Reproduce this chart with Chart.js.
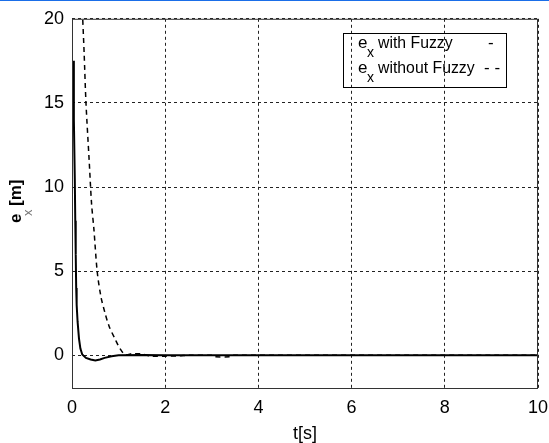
<!DOCTYPE html>
<html>
<head>
<meta charset="utf-8">
<script src="https://cdn.jsdelivr.net/npm/chart.js@4"></script>
<style>
  body { margin: 0; background: #fff; }
  #topline { position: absolute; left: 0; top: 0; width: 549px; height: 1px; background: #1a6ee8; }
</style>
</head>
<body>
<div id="topline"></div>
<canvas id="chart" width="549" height="443"></canvas>
<script>
// e_x with Fuzzy (solid)
const tWithFuzzy = [0.03, 0.04, 0.06, 0.07, 0.08, 0.09, 0.10, 0.12, 0.15, 0.18, 0.22, 0.30, 0.40, 0.50, 0.60, 0.70, 0.85, 1.00, 1.50, 2.00, 10];
const eWithFuzzy = [17.5, 14.0, 10.5, 8.0, 6.0, 4.0, 3.0, 2.0, 1.0, 0.4, 0.05, -0.15, -0.25, -0.3, -0.25, -0.15, -0.05, 0, 0.02, 0, 0];

// e_x without Fuzzy (dashed)
const tWithoutFuzzy = [0.215, 0.23, 0.26, 0.30, 0.37, 0.42, 0.47, 0.54, 0.62, 0.71, 0.80, 0.92, 1.03, 1.14, 1.30, 1.50, 1.70, 2.00, 2.30, 2.50, 3.00, 3.05, 3.40, 3.45, 10];
const eWithoutFuzzy = [21, 20, 18, 15, 11.5, 9, 7.5, 5, 3.5, 2.5, 1.7, 1.0, 0.4, 0.05, 0.1, 0.08, -0.05, -0.05, -0.03, 0, 0, -0.08, -0.08, 0, 0];

const xTicks = [0, 2, 4, 6, 8, 10];
const yTicks = [0, 5, 10, 15, 20];

const legendLabels = ['with Fuzzy', 'without Fuzzy'];
const legendMarks = ['-', '- -'];

function toPoints(xs, ys) {
  return xs.map((x, i) => ({ x: x, y: ys[i] }));
}

const framePlugin = {
  id: 'frame',
  afterDraw(chart) {
    const ctx = chart.ctx;
    const a = chart.chartArea;
    ctx.save();
    // plot box
    ctx.strokeStyle = '#333';
    ctx.lineWidth = 1;
    ctx.strokeRect(a.left + 0.5, a.top + 0.5, a.right - a.left - 1, a.bottom - a.top - 1);

    // x axis title
    ctx.fillStyle = '#000';
    ctx.font = '18px "Liberation Sans", Arial, sans-serif';
    ctx.textAlign = 'center';
    ctx.textBaseline = 'alphabetic';
    ctx.fillText('t[s]', (a.left + a.right) / 2, 439);

    // y axis title, rotated
    ctx.save();
    ctx.translate(21, 223);
    ctx.rotate(-Math.PI / 2);
    ctx.textAlign = 'left';
    ctx.font = 'bold 17px "Liberation Sans", Arial, sans-serif';
    ctx.fillStyle = '#000';
    ctx.fillText('e', 0, 0);
    ctx.font = '13px "Liberation Sans", Arial, sans-serif';
    ctx.fillStyle = '#777';
    ctx.fillText('x', 7, 11);
    ctx.font = 'bold 17px "Liberation Sans", Arial, sans-serif';
    ctx.fillStyle = '#000';
    ctx.fillText('[m]', 17, 0);
    ctx.restore();

    // legend box (transparent, grid shows through)
    ctx.strokeStyle = '#000';
    ctx.lineWidth = 1;
    ctx.strokeRect(343.5, 33.5, 163, 54);
    const rows = [48, 73];
    legendLabels.forEach((label, i) => {
      const y = rows[i];
      ctx.textAlign = 'left';
      ctx.fillStyle = '#000';
      ctx.font = '17px "Liberation Sans", Arial, sans-serif';
      ctx.fillText('e', 358, y);
      ctx.font = '14px "Liberation Sans", Arial, sans-serif';
      ctx.fillText('x', 367, y + 9);
      ctx.font = '17px "Liberation Sans", Arial, sans-serif';
      ctx.save();
      ctx.translate(378, y);
      ctx.scale(0.93, 1);
      ctx.fillText(label, 0, 0);
      ctx.restore();
      ctx.fillText(legendMarks[i], i === 0 ? 488 : 484, y);
    });
    ctx.restore();
  }
};

const gridOpts = { color: '#222', lineWidth: 1, drawTicks: false };
const tickFont = { family: '"Liberation Sans", Arial, sans-serif', size: 18 };

new Chart(document.getElementById('chart'), {
  type: 'line',
  data: {
    datasets: [
      {
        label: 'with Fuzzy',
        data: toPoints(tWithFuzzy, eWithFuzzy),
        borderColor: '#000',
        borderWidth: 2,
        pointRadius: 0,
        tension: 0,
      },
      {
        label: 'without Fuzzy',
        data: toPoints(tWithoutFuzzy, eWithoutFuzzy),
        borderColor: '#000',
        borderWidth: 1.5,
        borderDash: [5, 4],
        pointRadius: 0,
        tension: 0.3,
      },
    ],
  },
  options: {
    responsive: false,
    animation: false,
    devicePixelRatio: 1,
    layout: { padding: { top: 17, right: 0, left: 0, bottom: 0 } },
    plugins: { legend: { display: false }, tooltip: { enabled: false } },
    scales: {
      x: {
        type: 'linear',
        min: 0,
        max: 10,
        afterBuildTicks: (scale) => { scale.ticks = xTicks.map((v) => ({ value: v })); },
        afterFit: (scale) => {
          scale.height = 54;
          scale.paddingLeft = 0;
          scale.paddingRight = 11;
        },
        grid: gridOpts,
        border: { display: false, dash: [3, 3] },
        ticks: { font: tickFont, color: '#000', padding: 8, maxRotation: 0 },
      },
      y: {
        type: 'linear',
        min: -2,
        max: 20,
        afterBuildTicks: (scale) => { scale.ticks = yTicks.map((v) => ({ value: v })); },
        afterFit: (scale) => { scale.width = 72; },
        grid: gridOpts,
        border: { display: false, dash: [3, 3] },
        ticks: { font: tickFont, color: '#000', padding: 8 },
      },
    },
  },
  plugins: [framePlugin],
});
</script>
</body>
</html>
